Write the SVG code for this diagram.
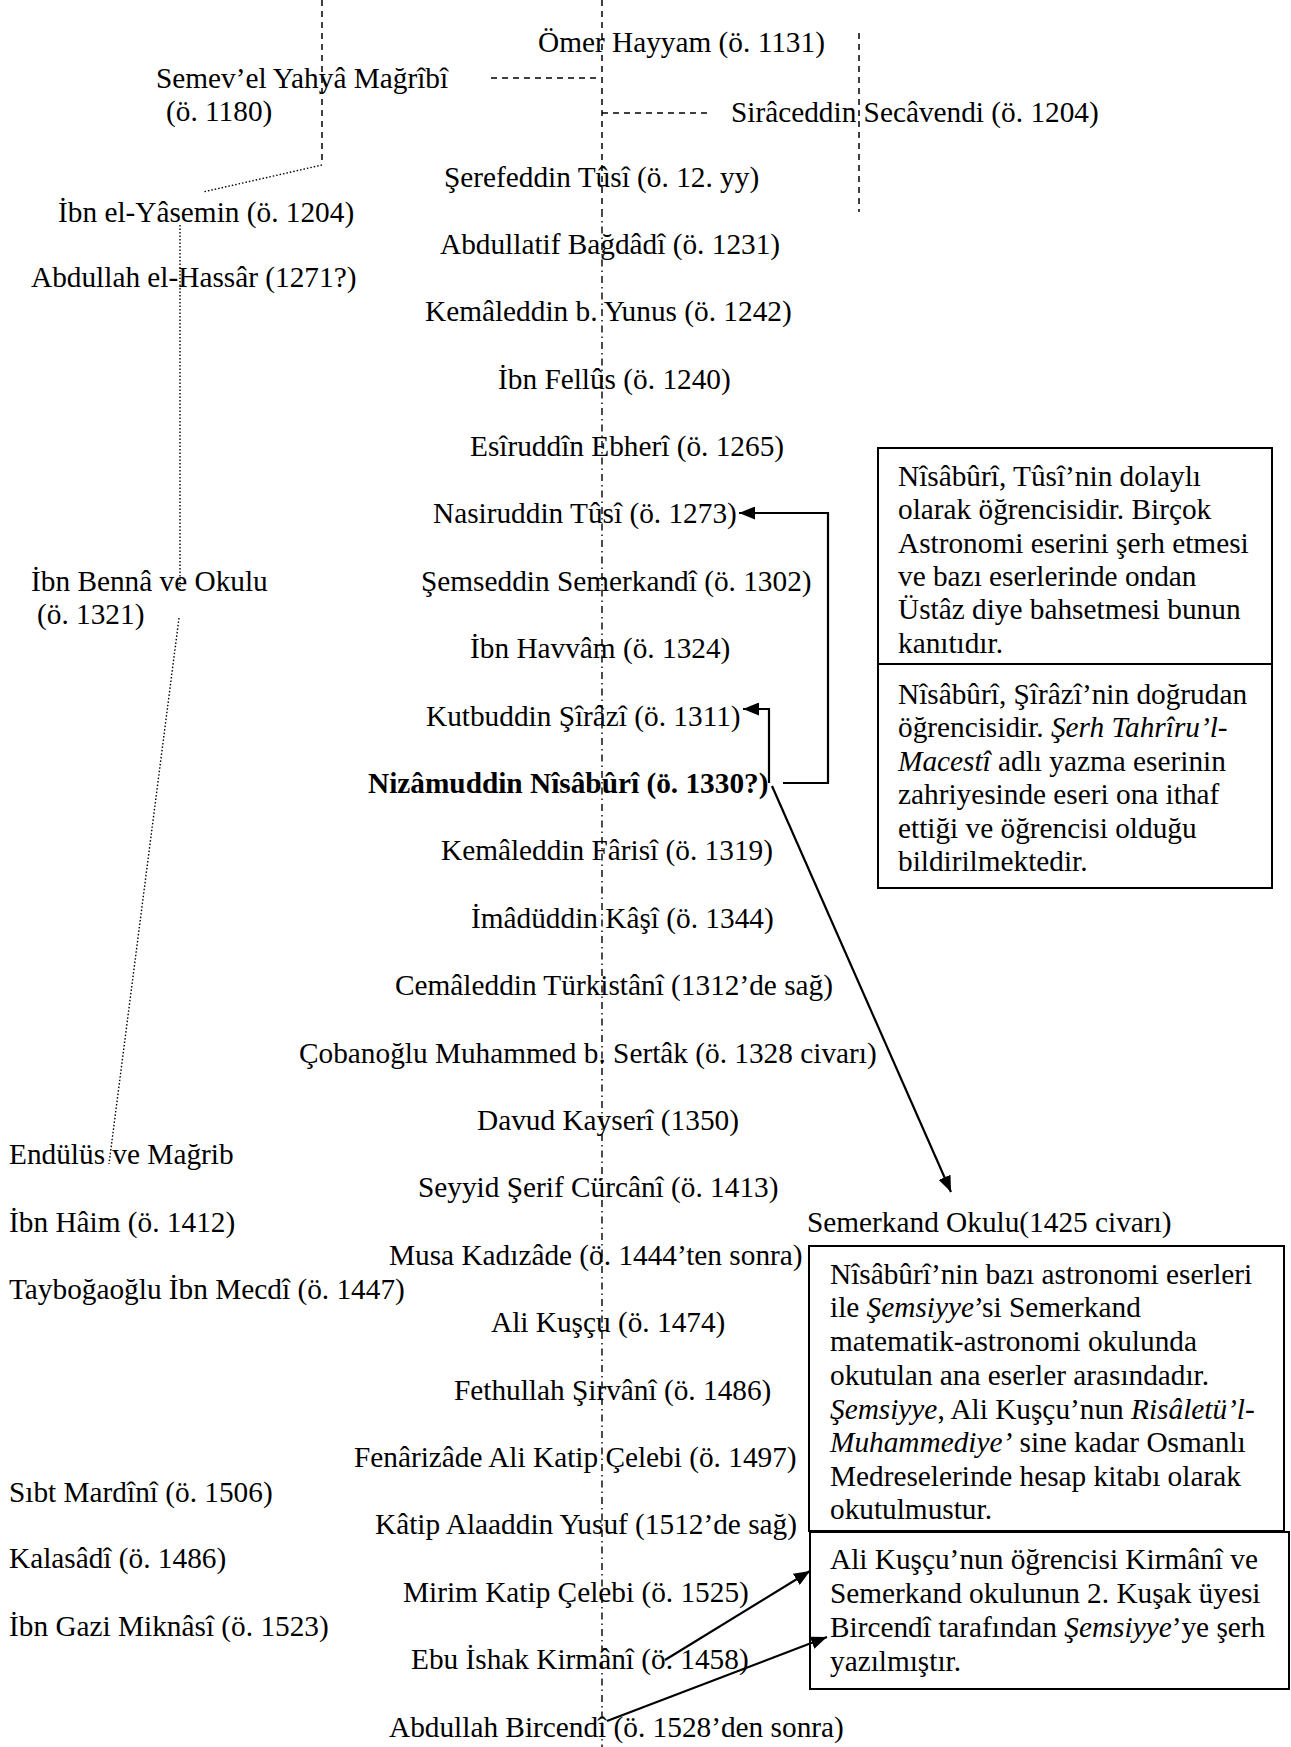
<svg xmlns="http://www.w3.org/2000/svg" width="1291" height="1747" viewBox="0 0 1291 1747">
<style>
.t{font-family:"Liberation Serif","Times New Roman",serif;font-size:29.3px;fill:#000}
.b{font-weight:bold}
.i{font-style:italic}
.box{fill:none;stroke:#000;stroke-width:2}
.dash{fill:none;stroke:#000;stroke-width:1.5;stroke-dasharray:6 5}
.dashdot{fill:none;stroke:#000;stroke-width:1.4;stroke-dasharray:7 4 1.5 4}
.dot{fill:none;stroke:#000;stroke-width:1.4;stroke-dasharray:1.5 2}
.arr{fill:none;stroke:#000;stroke-width:2.2;marker-end:url(#ah)}
</style>
<defs>
<marker id="ah" markerUnits="userSpaceOnUse" markerWidth="17" markerHeight="13" refX="16" refY="6.5" orient="auto">
<path d="M0,0 L16,6.5 L0,13 z" fill="#000"/>
</marker>
</defs>
<rect width="1291" height="1747" fill="#fff"/>
<g id="connectors">
<path class="dash" d="M322,0 V165"/>
<path class="dot" d="M322,165 L203,192"/>
<path class="dash" d="M491,78 H600"/>
<path class="dash" d="M602,0 V210"/>
<path class="dashdot" d="M602,210 V1747"/>
<path class="dash" d="M602,113 H709"/>
<path class="dash" d="M859,33 V212"/>
<path class="dot" d="M180,225 V590"/>
<path class="dot" d="M179,618 L109,1164"/>
<path class="arr" d="M783,783 H828 V513 H739"/>
<path class="arr" d="M769,783 V709 H743"/>
<path class="arr" d="M772,786 L951,1192"/>
<path class="arr" d="M665,1660 L810,1571"/>
<path class="arr" d="M607,1721 L827,1637"/>
</g>
<g id="n-omer"><text class="t" x="538" y="52">Ömer Hayyam (ö. 1131)</text></g>
<g id="n-semevel"><text class="t" x="156" y="88">Semev’el Yahyâ Mağrîbî</text><text class="t" x="166" y="121">(ö. 1180)</text></g>
<g id="n-siraceddin"><text class="t" x="731" y="122">Sirâceddin Secâvendi (ö. 1204)</text></g>
<g id="n-serefeddin"><text class="t" x="444" y="187">Şerefeddin Tûsî (ö. 12. yy)</text></g>
<g id="n-yasemin"><text class="t" x="58" y="222">İbn el-Yâsemin (ö. 1204)</text></g>
<g id="n-abdullatif"><text class="t" x="440" y="254">Abdullatif Bağdâdî (ö. 1231)</text></g>
<g id="n-hassar"><text class="t" x="31" y="287">Abdullah el-Hassâr (1271?)</text></g>
<g id="n-kemaleddin-yunus"><text class="t" x="425" y="321">Kemâleddin b. Yunus (ö. 1242)</text></g>
<g id="n-fellus"><text class="t" x="498" y="389">İbn Fellûs (ö. 1240)</text></g>
<g id="n-ebheri"><text class="t" x="470" y="456">Esîruddîn Ebherî (ö. 1265)</text></g>
<g id="n-nasiruddin"><text class="t" x="433" y="523">Nasiruddin Tûsî (ö. 1273)</text></g>
<g id="n-ibnbenna"><text class="t" x="31" y="591">İbn Bennâ ve Okulu</text><text class="t" x="37" y="624">(ö. 1321)</text></g>
<g id="n-semerkandi"><text class="t" x="421" y="591">Şemseddin Semerkandî (ö. 1302)</text></g>
<g id="n-havvam"><text class="t" x="470" y="658">İbn Havvâm (ö. 1324)</text></g>
<g id="n-sirazi"><text class="t" x="426" y="726">Kutbuddin Şîrâzî (ö. 1311)</text></g>
<g id="n-nisaburi"><text class="t b" x="368" y="793">Nizâmuddin Nîsâbûrî (ö. 1330?)</text></g>
<g id="n-farisi"><text class="t" x="441" y="860">Kemâleddin Fârisî (ö. 1319)</text></g>
<g id="n-kasi"><text class="t" x="471" y="928">İmâdüddin Kâşî (ö. 1344)</text></g>
<g id="n-turkistani"><text class="t" x="395" y="995">Cemâleddin Türkistânî (1312’de sağ)</text></g>
<g id="n-cobanoglu"><text class="t" x="299" y="1063">Çobanoğlu Muhammed b. Sertâk (ö. 1328 civarı)</text></g>
<g id="n-kayseri"><text class="t" x="477" y="1130">Davud Kayserî (1350)</text></g>
<g id="n-endulus"><text class="t" x="9" y="1164">Endülüs ve Mağrib</text></g>
<g id="n-curcani"><text class="t" x="418" y="1197">Seyyid Şerif Cürcânî (ö. 1413)</text></g>
<g id="n-haim"><text class="t" x="9" y="1232">İbn Hâim (ö. 1412)</text></g>
<g id="n-semerkand-okulu"><text class="t" x="807" y="1232">Semerkand Okulu(1425 civarı)</text></g>
<g id="n-kadizade"><text class="t" x="389" y="1265">Musa Kadızâde (ö. 1444’ten sonra)</text></g>
<g id="n-mecdi"><text class="t" x="9" y="1299">Tayboğaoğlu İbn Mecdî (ö. 1447)</text></g>
<g id="n-kuscu"><text class="t" x="491" y="1332">Ali Kuşçu (ö. 1474)</text></g>
<g id="n-sirvani"><text class="t" x="454" y="1400">Fethullah Şirvânî (ö. 1486)</text></g>
<g id="n-fenarizade"><text class="t" x="354" y="1467">Fenârizâde Ali Katip Çelebi (ö. 1497)</text></g>
<g id="n-mardini"><text class="t" x="9" y="1502">Sıbt Mardînî (ö. 1506)</text></g>
<g id="n-alaaddin"><text class="t" x="375" y="1534">Kâtip Alaaddin Yusuf (1512’de sağ)</text></g>
<g id="n-kalasadi"><text class="t" x="9" y="1568">Kalasâdî (ö. 1486)</text></g>
<g id="n-mirim"><text class="t" x="403" y="1602">Mirim Katip Çelebi (ö. 1525)</text></g>
<g id="n-miknasi"><text class="t" x="9" y="1636">İbn Gazi Miknâsî (ö. 1523)</text></g>
<g id="n-kirmani"><text class="t" x="411" y="1669">Ebu İshak Kirmânî (ö. 1458)</text></g>
<g id="n-bircendi"><text class="t" x="389" y="1737">Abdullah Bircendî (ö. 1528’den sonra)</text></g>
<g id="note-tusi">
<rect class="box" x="878" y="448" width="394" height="216"/>
<text class="t" x="898" y="486">Nîsâbûrî, Tûsî’nin dolaylı</text>
<text class="t" x="898" y="519">olarak öğrencisidir. Birçok</text>
<text class="t" x="898" y="553">Astronomi eserini şerh etmesi</text>
<text class="t" x="898" y="586">ve bazı eserlerinde ondan</text>
<text class="t" x="898" y="619">Üstâz diye bahsetmesi bunun</text>
<text class="t" x="898" y="653">kanıtıdır.</text>
</g>
<g id="note-sirazi">
<rect class="box" x="878" y="664" width="394" height="224"/>
<text class="t" x="898" y="704">Nîsâbûrî, Şîrâzî’nin doğrudan</text>
<text class="t" x="898" y="737">öğrencisidir. <tspan class="i">Şerh Tahrîru’l-</tspan></text>
<text class="t" x="898" y="771"><tspan class="i">Macestî</tspan> adlı yazma eserinin</text>
<text class="t" x="898" y="804">zahriyesinde eseri ona ithaf</text>
<text class="t" x="898" y="838">ettiği ve öğrencisi olduğu</text>
<text class="t" x="898" y="871">bildirilmektedir.</text>
</g>
<g id="note-semsiyye">
<rect class="box" x="809" y="1246" width="475" height="285"/>
<text class="t" x="830" y="1284">Nîsâbûrî’nin bazı astronomi eserleri</text>
<text class="t" x="830" y="1317">ile <tspan class="i">Şemsiyye</tspan>’si Semerkand</text>
<text class="t" x="830" y="1351">matematik-astronomi okulunda</text>
<text class="t" x="830" y="1385">okutulan ana eserler arasındadır.</text>
<text class="t" x="830" y="1419"><tspan class="i">Şemsiyye</tspan>, Ali Kuşçu’nun <tspan class="i">Risâletü’l-</tspan></text>
<text class="t" x="830" y="1452"><tspan class="i">Muhammediye’</tspan> sine kadar Osmanlı</text>
<text class="t" x="830" y="1486">Medreselerinde hesap kitabı olarak</text>
<text class="t" x="830" y="1519">okutulmustur.</text>
</g>
<g id="note-bircendi">
<rect class="box" x="810" y="1532" width="479" height="157"/>
<text class="t" x="830" y="1569">Ali Kuşçu’nun öğrencisi Kirmânî ve</text>
<text class="t" x="830" y="1603">Semerkand okulunun 2. Kuşak üyesi</text>
<text class="t" x="830" y="1637">Bircendî tarafından <tspan class="i">Şemsiyye</tspan>’ye şerh</text>
<text class="t" x="830" y="1671">yazılmıştır.</text>
</g>
</svg>
